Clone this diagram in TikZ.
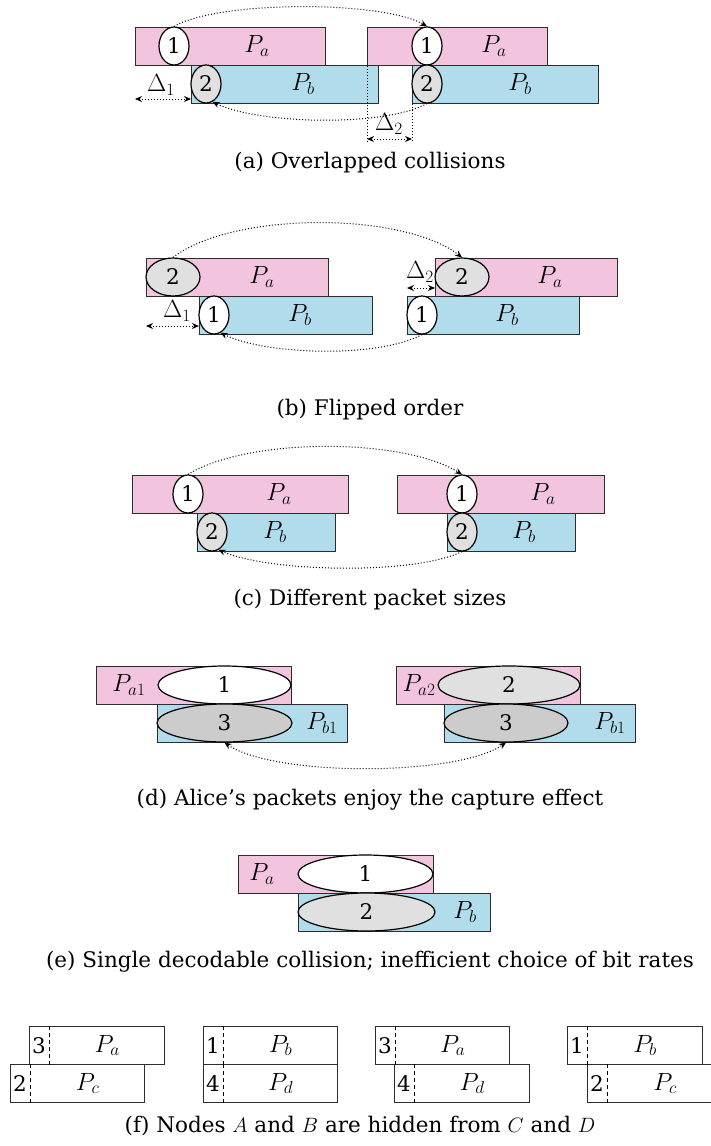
\documentclass[tikz,border=0pt]{standalone}
\usepackage{fontspec}
\setmainfont{DejaVu Serif}
\usetikzlibrary{shapes.geometric,arrows.meta}
\definecolor{pinkP}{RGB}{242,196,222}
\definecolor{blueP}{RGB}{176,220,235}
\definecolor{lgray}{RGB}{224,224,224}
\definecolor{dgray}{RGB}{204,204,204}
\definecolor{edgec}{RGB}{45,45,45}
\begin{document}
\begin{tikzpicture}[x=1pt,y=-1pt,
  font=\fontsize{21.5}{26}\selectfont,
  pkt/.style={draw=edgec, line width=1.2pt, minimum height=38pt, inner sep=0pt, anchor=north west},
  pa/.style={pkt, fill=pinkP},
  pb/.style={pkt, fill=blueP},
  fbox/.style={pkt, fill=white},
  sig/.style={ellipse, draw=black, line width=1.2pt, inner sep=0pt, minimum height=38pt, fill=white},
  sigg/.style={sig, fill=lgray},
  sigd/.style={sig, fill=dgray},
  lbl/.style={inner sep=0pt, font=\fontsize{23}{26}\selectfont},
  num/.style={inner sep=0pt},
  tip/.style={-{Stealth[length=7pt,width=6pt]}},
  arc/.style={dotted, line width=1pt, tip},
  gap/.style={dotted, line width=1pt, {Stealth[length=7pt,width=6pt]}-{Stealth[length=7pt,width=6pt]}},
  guide/.style={dotted, line width=1pt},
  sep/.style={dashed, line width=1pt, dash pattern=on 4pt off 3pt},
  captxt/.style={inner sep=0pt}
]
\fill[white] (0,0) rectangle (710,1146);
\useasboundingbox (0,0) rectangle (710,1146);

% ---------------- (a) ----------------
\node[pa, minimum width=190pt] (apa1) at (135,27) {};
\node[pb, minimum width=187pt] (apb1) at (191,65) {};
\node[pa, minimum width=180pt] (apa2) at (367,27) {};
\node[pb, minimum width=186pt] (apb2) at (412,65) {};
\node[sig, minimum width=30pt] (a1) at (174,46) {1};
\node[sigg, minimum width=30pt] (a2) at (206,84) {2};
\node[sig, minimum width=30pt] (a3) at (427,46) {1};
\node[sigg, minimum width=30pt] (a4) at (427,84) {2};
\node[lbl] (apal1) at (257,46) {$P_a$};
\node[lbl] (apbl1) at (303,84) {$P_b$};
\node[lbl] (apal2) at (494,46) {$P_a$};
\node[lbl] (apbl2) at (520,84) {$P_b$};
\draw[arc] (a1.north) .. controls +(45,-26) and +(-45,-26) .. (a3.north);
\draw[arc] (a4.south) .. controls +(-45,24) and +(45,22) .. (a2.-70);
\coordinate (ad1) at (135,99);
\draw[gap] (ad1) -- (ad1 -| apb1.west);
\node[lbl] (adl1) at (161,85) {$\Delta_1$};
\coordinate (av1) at (367,143);
\coordinate (av2) at (412,143);
\draw[guide] (apa2.south west) -- (av1);
\draw[guide] (apb2.south west) -- (av2);
\draw[gap] ([yshift=4pt]av1) -- ([yshift=4pt]av2);
\node[lbl] (adl2) at (389,124) {$\Delta_2$};
\node[captxt] (capa) at (370,163) {(a) Overlapped collisions};

% ---------------- (b) ----------------
\node[pa, minimum width=182pt] (bpa1) at (146,258) {};
\node[pb, minimum width=173pt] (bpb1) at (199,296) {};
\node[pa, minimum width=182pt] (bpa2) at (435,258) {};
\node[pb, minimum width=172pt] (bpb2) at (407,296) {};
\node[sigg, minimum width=54pt] (b1) at (173,277) {2};
\node[sig, minimum width=30pt] (b2) at (214,315) {1};
\node[sigg, minimum width=54pt] (b3) at (462,277) {2};
\node[sig, minimum width=30pt] (b4) at (422,315) {1};
\node[lbl] (bpal1) at (262,277) {$P_a$};
\node[lbl] (bpbl1) at (300,315) {$P_b$};
\node[lbl] (bpal2) at (550,277) {$P_a$};
\node[lbl] (bpbl2) at (507,315) {$P_b$};
\draw[arc] (b1.north) .. controls +(60,-46) and +(-60,-46) .. (b3.north);
\draw[arc] (b4.south) .. controls +(-45,24) and +(45,22) .. (b2.-70);
\coordinate (bd1) at (146,326);
\draw[gap] (bd1) -- (bd1 -| bpb1.west);
\node[lbl] (bdl1) at (177,311) {$\Delta_1$};
\coordinate (bd2) at (407,288);
\draw[gap] (bd2) -- (bd2 -| bpa2.west);
\node[lbl] (bdl2) at (420,272) {$\Delta_2$};
\node[captxt] (capb) at (370,410) {(b) Flipped order};

% ---------------- (c) ----------------
\node[pa, minimum width=216pt] (cpa1) at (132,475) {};
\node[pb, minimum width=138pt] (cpb1) at (197,513) {};
\node[pa, minimum width=207pt] (cpa2) at (397,475) {};
\node[pb, minimum width=128pt] (cpb2) at (447,513) {};
\node[sig, minimum width=30pt] (c1) at (188,494) {1};
\node[sigg, minimum width=30pt] (c2) at (212,532) {2};
\node[sig, minimum width=30pt] (c3) at (462,494) {1};
\node[sigg, minimum width=30pt] (c4) at (462,532) {2};
\node[lbl] (cpal1) at (279,494) {$P_a$};
\node[lbl] (cpbl1) at (275,532) {$P_b$};
\node[lbl] (cpal2) at (543,494) {$P_a$};
\node[lbl] (cpbl2) at (524,532) {$P_b$};
\draw[arc] (c1.north) .. controls +(60,-37) and +(-60,-37) .. (c3.north);
\draw[arc] (c4.south) .. controls +(-50,24) and +(50,22) .. (c2.-70);
\node[captxt] (capc) at (370,600) {(c) Different packet sizes};

% ---------------- (d) ----------------
\node[pa, minimum width=195pt] (dpa1) at (96,666) {};
\node[pb, minimum width=190pt] (dpb1) at (157,704) {};
\node[pa, minimum width=184pt] (dpa2) at (396,666) {};
\node[pb, minimum width=191pt] (dpb2) at (444,704) {};
\node[sig, minimum width=133pt] (d1) at (224.5,685) {1};
\node[sigd, minimum width=135pt] (d2) at (224.5,723) {3};
\node[sigg, minimum width=142pt] (d3) at (509,685) {2};
\node[sigd, minimum width=124pt] (d4) at (506,723) {3};
\node[lbl] (dpal1) at (129,685) {$P_{a1}$};
\node[lbl] (dpbl1) at (322,723) {$P_{b1}$};
\node[lbl] (dpal2) at (419,685) {$P_{a2}$};
\node[lbl] (dpbl2) at (610,723) {$P_{b1}$};
\draw[gap] (d2.south) .. controls +(50,34) and +(-50,34) .. (d4.south);
\node[captxt] (capd) at (370,800) {(d) Alice's packets enjoy the capture effect};

% ---------------- (e) ----------------
\node[pa, minimum width=195pt] (epa) at (238,855) {};
\node[pb, minimum width=192pt] (epb) at (298,893) {};
\node[sig, minimum width=135pt] (e1) at (365.5,874) {1};
\node[sigg, minimum width=137pt] (e2) at (366.5,912) {2};
\node[lbl] (epal) at (262,874) {$P_a$};
\node[lbl] (epbl) at (465,912) {$P_b$};
\node[captxt] (cape) at (370,962) {(e) Single decodable collision; inefficient choice of bit rates};

% ---------------- (f) ----------------
\node[fbox, minimum width=135pt] (f1t) at (29,1026) {};
\node[fbox, minimum width=134pt] (f1b) at (10,1064) {};
\node[fbox, minimum width=134pt] (f2t) at (203,1026) {};
\node[fbox, minimum width=134pt] (f2b) at (203,1064) {};
\node[fbox, minimum width=134pt] (f3t) at (375,1026) {};
\node[fbox, minimum width=135pt] (f3b) at (394,1064) {};
\node[fbox, minimum width=135pt] (f4t) at (567,1026) {};
\node[fbox, minimum width=135pt] (f4b) at (587,1064) {};
\foreach \b in {f1t,f1b,f2t,f2b,f3t,f3b,f4t,f4b}{
  \draw[sep] ([xshift=20pt]\b.north west) -- ([xshift=20pt]\b.south west);
}
\node[num] (n1t) at ([xshift=10pt]f1t.west) {3};
\node[num] (n1b) at ([xshift=10pt]f1b.west) {2};
\node[num] (n2t) at ([xshift=10pt]f2t.west) {1};
\node[num] (n2b) at ([xshift=10pt]f2b.west) {4};
\node[num] (n3t) at ([xshift=10pt]f3t.west) {3};
\node[num] (n3b) at ([xshift=10pt]f3b.west) {4};
\node[num] (n4t) at ([xshift=10pt]f4t.west) {1};
\node[num] (n4b) at ([xshift=10pt]f4b.west) {2};
\node[lbl] (l1t) at ([xshift=10pt]f1t.center) {$P_a$};
\node[lbl] (l1b) at ([xshift=10pt]f1b.center) {$P_c$};
\node[lbl] (l2t) at ([xshift=10pt]f2t.center) {$P_b$};
\node[lbl] (l2b) at ([xshift=10pt]f2b.center) {$P_d$};
\node[lbl] (l3t) at ([xshift=10pt]f3t.center) {$P_a$};
\node[lbl] (l3b) at ([xshift=10pt]f3b.center) {$P_d$};
\node[lbl] (l4t) at ([xshift=10pt]f4t.center) {$P_b$};
\node[lbl] (l4b) at ([xshift=10pt]f4b.center) {$P_c$};
\node[captxt] (capf) at (360,1126) {(f) Nodes $A$ and $B$ are hidden from $C$ and $D$};
\end{tikzpicture}
\end{document}
